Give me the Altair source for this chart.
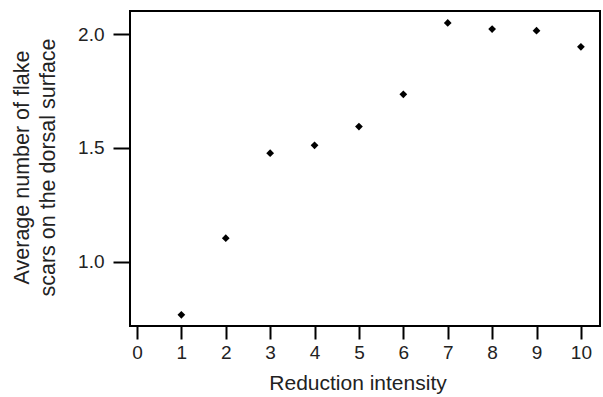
import altair as alt
import pandas as pd

intensity = [1, 2, 3, 4, 5, 6, 7, 8, 9, 10]
avg_scars = [0.766, 1.103, 1.477, 1.512, 1.594, 1.736, 2.050, 2.023, 2.016, 1.945]
x_ticks = [0, 1, 2, 3, 4, 5, 6, 7, 8, 9, 10]
y_ticks = [1.0, 1.5, 2.0]

df = pd.DataFrame({"x": intensity, "y": avg_scars})

FONT = "Liberation Sans"
TXT = "#222"

chart = alt.Chart(df).mark_point(
    shape="diamond", filled=True, color="black", size=60, opacity=1
).encode(
    x=alt.X("x:Q",
            scale=alt.Scale(domain=[-0.157, 10.43], nice=False, zero=False),
            axis=alt.Axis(values=x_ticks, format="d", title="Reduction intensity",
                          grid=False, domain=False, tickSize=13, tickWidth=2,
                          tickColor="black", labelPadding=4, labelFontSize=19,
                          labelColor=TXT, labelFont=FONT,
                          titleFont=FONT, titleFontSize=21, titleFontWeight="normal",
                          titleColor=TXT, titleX=227.5, titleY=63,
                          titleBaseline="alphabetic", titleAlign="center")),
    y=alt.Y("y:Q",
            scale=alt.Scale(domain=[0.717, 2.1025], nice=False, zero=False),
            axis=alt.Axis(values=y_ticks, format=".1f",
                          title=["Average number of flake", "scars on the dorsal surface"],
                          grid=False, domain=False, tickSize=17, tickWidth=2,
                          tickColor="black", labelPadding=9, labelFontSize=19,
                          labelColor=TXT, labelFont=FONT,
                          titleFont=FONT, titleFontSize=21.5, titleFontWeight="normal",
                          titleColor=TXT, titleAngle=-90, titleX=-102, titleY=156,
                          titleBaseline="alphabetic", titleAlign="center",
                          titleLineHeight=26)),
).properties(
    width=470, height=315,
    background="white",
    autosize=alt.AutoSizeParams(type="none"),
    padding={"left": 130, "top": 11, "right": 3, "bottom": 71},
).configure_view(
    stroke="black", strokeWidth=2
)

chart.save("out.html", embed_options={"renderer": "svg", "actions": False})
